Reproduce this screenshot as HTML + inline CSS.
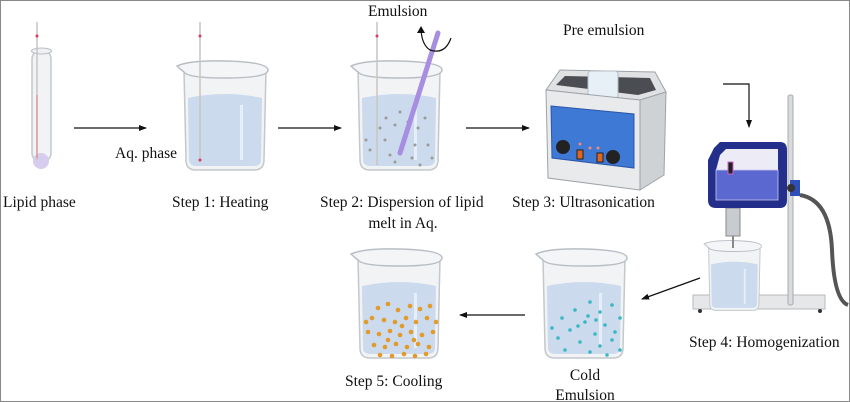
<!DOCTYPE html>
<html><head><meta charset="utf-8"><style>
html,body{margin:0;padding:0;background:#fff}
svg{display:block}
text{font-family:"Liberation Serif",serif;font-size:15.5px;fill:#111}
</style></head><body>
<svg width="850" height="402" viewBox="0 0 850 402" xmlns="http://www.w3.org/2000/svg">
<defs>
<marker id="ah" markerWidth="8" markerHeight="8" refX="7" refY="4" orient="auto" markerUnits="userSpaceOnUse"><path d="M0,1 L8,4 L0,7 Z" fill="#111"/></marker>
<g id="beaker">
  <path d="M4,10 L6,100 Q6,110 16,110 L74,110 Q84,110 84,100 L86,10 Z" fill="#f1f3f5" stroke="#c3c8cd" stroke-width="1.5"/>
  <path d="M8,38 Q45,30 82,38 L81,100 Q81,106 73,106 L17,106 Q9,106 9,100 Z" fill="#cbdaec"/>
  <rect x="60" y="45" width="3" height="55" fill="#e6eef7"/>
  <path d="M-3,6 Q10,0 45,1 Q88,2 88,10 Q88,18 45,18 Q8,18 4,12 Q0,9 -3,6 Z" fill="#f3f5f7" stroke="#b8bec4" stroke-width="1.5"/>
</g>
</defs>
<rect x="0.5" y="0.5" width="849" height="401" fill="#fff" stroke="#888" stroke-width="1"/>

<!-- test tube -->
<rect x="32" y="50" width="19" height="112" rx="9" fill="#f1f3f5" stroke="#c3c8cd" stroke-width="1.5"/>
<ellipse cx="41.5" cy="51" rx="10" ry="3" fill="#eef0f2" stroke="#b8bec4"/>
<circle cx="41" cy="161" r="8" fill="#d6cdee"/>
<line x1="37" y1="22" x2="37" y2="160" stroke="#c9c4c0" stroke-width="1.5"/>
<line x1="37" y1="95" x2="37" y2="158" stroke="#e08080" stroke-width="1"/>
<circle cx="37" cy="36" r="1.5" fill="#d0406a"/>

<line x1="74" y1="128" x2="146" y2="128" stroke="#111" stroke-width="1.2" marker-end="url(#ah)"/>

<!-- beaker 1 -->
<use href="#beaker" transform="translate(180,60)"/>
<line x1="200" y1="22" x2="200" y2="162" stroke="#c9c4c0" stroke-width="1.5"/>
<circle cx="200" cy="36" r="1.5" fill="#d0406a"/>
<circle cx="200" cy="160" r="1.5" fill="#d0406a"/>
<text x="115" y="158">Aq. phase</text>

<line x1="278" y1="128" x2="341" y2="128" stroke="#111" stroke-width="1.2" marker-end="url(#ah)"/>

<!-- beaker 2 -->
<use href="#beaker" transform="translate(354,60)"/>
<line x1="377" y1="22" x2="377" y2="165" stroke="#c9c4c0" stroke-width="1.5"/>
<circle cx="377" cy="36" r="1.5" fill="#d0406a"/>
<g fill="#9a9a9a">
<circle cx="395" cy="125" r="1.5"/><circle cx="405" cy="135" r="1.5"/><circle cx="385" cy="140" r="1.5"/><circle cx="418" cy="128" r="1.5"/><circle cx="428" cy="145" r="1.5"/><circle cx="390" cy="155" r="1.5"/><circle cx="412" cy="158" r="1.5"/><circle cx="425" cy="118" r="1.5"/><circle cx="370" cy="150" r="1.5"/><circle cx="400" cy="112" r="1.5"/><circle cx="415" cy="145" r="1.5"/><circle cx="432" cy="158" r="1.5"/><circle cx="380" cy="128" r="1.5"/><circle cx="366" cy="140" r="1.5"/><circle cx="408" cy="122" r="1.5"/><circle cx="395" cy="162" r="1.5"/><circle cx="420" cy="165" r="1.5"/><circle cx="386" cy="118" r="1.5"/>
</g>
<line x1="438" y1="33" x2="400" y2="153" stroke="#a88ee0" stroke-width="5" stroke-linecap="round"/>
<path d="M451,38 Q445,55 430,50 Q422,45 421,30" fill="none" stroke="#111" stroke-width="1.2"/>
<path d="M417,33 L421,26 L425,33 Z" fill="#111"/>
<text x="368" y="16">Emulsion</text>

<line x1="466" y1="128" x2="529" y2="128" stroke="#111" stroke-width="1.2" marker-end="url(#ah)"/>

<!-- ultrasonic bath -->
<polygon points="546,90 560,70 655,72 666,92 640,100" fill="#dfe1e3" stroke="#9ea3a8"/>
<polygon points="556,85 565,76 650,78 656,90 638,95" fill="#4a4d52"/>
<rect x="588" y="71" width="30" height="27" rx="3" fill="#e8f0f7" stroke="#b6bec6"/>
<polygon points="546,90 640,100 640,190 548,178" fill="#e9eaeb" stroke="#9ea3a8"/>
<polygon points="640,100 666,92 664,175 640,190" fill="#cfd2d5" stroke="#9ea3a8"/>
<polygon points="551,106 634,114 634,168 552,158" fill="#3f79d6" stroke="#2c56a8"/>
<circle cx="563" cy="147" r="7" fill="#222"/>
<circle cx="613" cy="157" r="7" fill="#222"/>
<rect x="577" y="150" width="6" height="9" fill="#e0651f" stroke="#222"/>
<rect x="597" y="153" width="6" height="9" fill="#e0651f" stroke="#222"/>
<circle cx="590" cy="148" r="1.5" fill="#f08a7a"/><circle cx="580" cy="144" r="1.5" fill="#f08a7a"/><circle cx="598" cy="148" r="1.5" fill="#f08a7a"/>
<text x="563" y="35">Pre emulsion</text>

<!-- L arrow -->
<polyline points="723,84 749,84 749,127" fill="none" stroke="#111" stroke-width="1.2" marker-end="url(#ah)"/>

<!-- homogenizer -->
<rect x="693" y="295" width="132" height="14" fill="#e6e7e8" stroke="#b5b9bd"/>
<circle cx="700" cy="311" r="2" fill="#333"/><circle cx="820" cy="311" r="2" fill="#333"/>
<rect x="788" y="95" width="5" height="210" rx="2" fill="#d8dadc" stroke="#a8acb0"/>
<path d="M800,195 Q830,200 832,250 Q834,300 848,305" fill="none" stroke="#555" stroke-width="4"/>
<use href="#beaker" transform="translate(706,240) scale(0.63,0.64)"/>
<rect x="726" y="208" width="14" height="28" fill="#c8ccd0" stroke="#888"/>
<line x1="733" y1="236" x2="733" y2="248" stroke="#888" stroke-width="2"/>
<path d="M714,148 L720,142 L780,142 Q787,142 787,150 L787,200 Q787,208 780,208 L716,208 Q708,208 708,200 L708,160 Z" fill="#232f8a"/>
<path d="M720,155 L726,149 L778,149 L778,170 L716,170 Z" fill="#ecebf6"/>
<rect x="716" y="170" width="62" height="30" fill="#5a68cf" stroke="#c8c8f0" stroke-width="0.8"/>
<rect x="728" y="162" width="5" height="12" fill="#222" stroke="#d060d0"/>
<rect x="790" y="180" width="10" height="16" fill="#2c4fb8"/>
<circle cx="791" cy="188" r="4" fill="#333"/>
<text x="689" y="347">Step 4: Homogenization</text>

<line x1="700" y1="278" x2="642" y2="299" stroke="#111" stroke-width="1.2" marker-end="url(#ah)"/>

<!-- cold emulsion beaker -->
<use href="#beaker" transform="translate(539,248)"/>
<g fill="#3ab7c4">
<circle cx="590" cy="302" r="1.8"/><circle cx="575" cy="310" r="1.8"/><circle cx="600" cy="312" r="1.8"/><circle cx="612" cy="305" r="1.8"/><circle cx="562" cy="318" r="1.8"/><circle cx="585" cy="322" r="1.8"/><circle cx="605" cy="325" r="1.8"/><circle cx="620" cy="318" r="1.8"/><circle cx="570" cy="330" r="1.8"/><circle cx="595" cy="334" r="1.8"/><circle cx="612" cy="340" r="1.8"/><circle cx="558" cy="338" r="1.8"/><circle cx="580" cy="342" r="1.8"/><circle cx="600" cy="346" r="1.8"/><circle cx="620" cy="350" r="1.8"/><circle cx="565" cy="350" r="1.8"/><circle cx="588" cy="316" r="1.8"/><circle cx="596" cy="320" r="1.8"/><circle cx="578" cy="326" r="1.8"/><circle cx="615" cy="332" r="1.8"/><circle cx="552" cy="328" r="1.8"/><circle cx="590" cy="352" r="1.8"/><circle cx="607" cy="355" r="1.8"/>
</g>
<text x="585" y="380" text-anchor="middle">Cold</text>
<text x="585" y="400" text-anchor="middle">Emulsion</text>

<line x1="525" y1="315" x2="460" y2="315" stroke="#111" stroke-width="1.2" marker-end="url(#ah)"/>

<!-- step5 beaker -->
<use href="#beaker" transform="translate(354,248)"/>
<g fill="#e29a2a">
<circle cx="378" cy="308" r="2.3"/><circle cx="388" cy="304" r="2.3"/><circle cx="398" cy="310" r="2.3"/><circle cx="410" cy="306" r="2.3"/><circle cx="420" cy="309" r="2.3"/><circle cx="430" cy="306" r="2.3"/><circle cx="372" cy="318" r="2.3"/><circle cx="384" cy="320" r="2.3"/><circle cx="395" cy="322" r="2.3"/><circle cx="406" cy="318" r="2.3"/><circle cx="416" cy="322" r="2.3"/><circle cx="427" cy="318" r="2.3"/><circle cx="436" cy="322" r="2.3"/><circle cx="368" cy="332" r="2.3"/><circle cx="379" cy="334" r="2.3"/><circle cx="390" cy="331" r="2.3"/><circle cx="400" cy="335" r="2.3"/><circle cx="411" cy="332" r="2.3"/><circle cx="422" cy="335" r="2.3"/><circle cx="433" cy="332" r="2.3"/><circle cx="374" cy="345" r="2.3"/><circle cx="385" cy="347" r="2.3"/><circle cx="396" cy="344" r="2.3"/><circle cx="407" cy="347" r="2.3"/><circle cx="418" cy="344" r="2.3"/><circle cx="429" cy="347" r="2.3"/><circle cx="380" cy="355" r="2.3"/><circle cx="392" cy="356" r="2.3"/><circle cx="404" cy="354" r="2.3"/><circle cx="415" cy="356" r="2.3"/><circle cx="426" cy="354" r="2.3"/><circle cx="366" cy="322" r="2.3"/><circle cx="402" cy="326" r="2.3"/><circle cx="388" cy="340" r="2.3"/><circle cx="414" cy="340" r="2.3"/>
</g>
<text x="345" y="386">Step 5: Cooling</text>

<text x="3" y="207">Lipid phase</text>
<text x="172" y="207">Step 1: Heating</text>
<text x="320" y="207">Step 2: Dispersion of lipid</text>
<text x="403" y="228" text-anchor="middle">melt in Aq.</text>
<text x="512" y="207">Step 3: Ultrasonication</text>
</svg>
</body></html>
